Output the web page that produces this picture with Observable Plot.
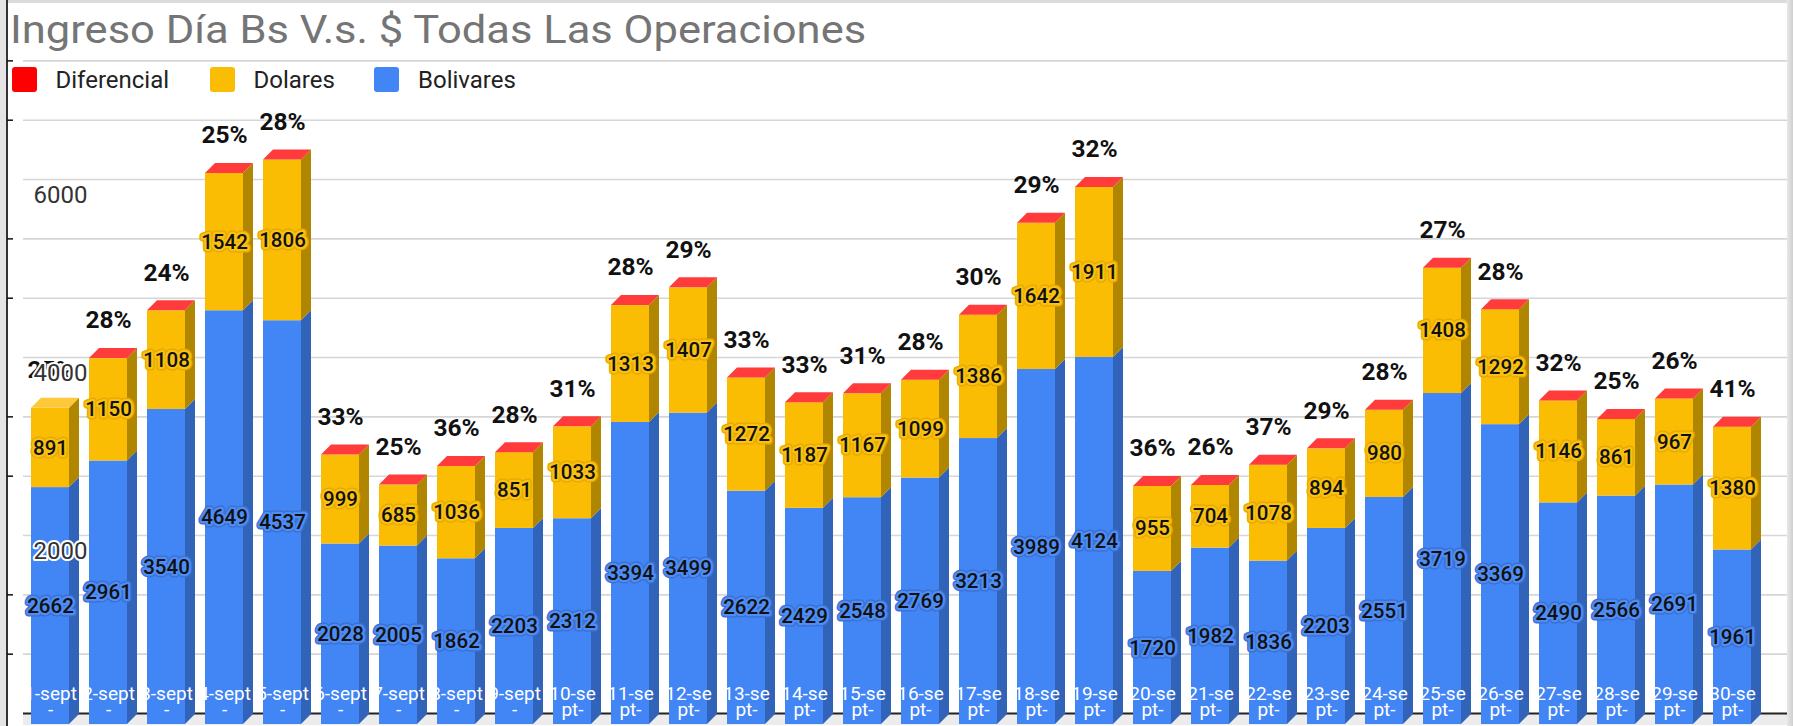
<!DOCTYPE html>
<html>
<head>
<meta charset="utf-8">
<script src="https://cdn.jsdelivr.net/npm/d3@7"></script>
<script src="https://cdn.jsdelivr.net/npm/@observablehq/plot@0.6"></script>
<style>
  html, body { margin: 0; padding: 0; background: #fff; }
  #wrap { position: relative; width: 1793px; height: 726px; overflow: hidden; background: #fff; font-family: Roboto, "Noto Sans", sans-serif; }
  #title { position: absolute; left: 10px; top: 4px; height: 52px; line-height: 52px; font-size: 39px; color: #757575; white-space: nowrap; transform: scaleX(1.115); transform-origin: left center; }
  #chart { position: absolute; left: 0; top: 52px; }
  .leg { position: absolute; top: 67px; height: 25px; display: flex; align-items: center; font-size: 24px; color: #222; white-space: nowrap; }
  .sw { width: 25px; height: 25px; border-radius: 3px; margin-right: 19px; }
  .deco { position: absolute; }
</style>
</head>
<body>
<div id="wrap">
  <div class="deco" style="left:0;top:0;width:1793px;height:3px;background:#dcdcdc"></div>
  <div class="deco" style="left:0;top:0;width:6px;height:726px;background:#e4e4e4"></div>
  <div class="deco" style="left:6px;top:0;width:2px;height:726px;background:#333"></div>
  <div class="deco" style="right:0;top:0;width:6px;height:726px;background:linear-gradient(to right,#e8e8e8,#cfcfcf)"></div>
  <div id="title">Ingreso Día Bs V.s. $ Todas Las Operaciones</div>
  <div id="chart"></div>
  <div id="legend"></div>
</div>
<script>
// ---- data ----
const dias = ["1-sept-","2-sept-","3-sept-","4-sept-","5-sept-","6-sept-","7-sept-","8-sept-","9-sept-","10-sept-",
  "11-sept-","12-sept-","13-sept-","14-sept-","15-sept-","16-sept-","17-sept-","18-sept-","19-sept-","20-sept-",
  "21-sept-","22-sept-","23-sept-","24-sept-","25-sept-","26-sept-","27-sept-","28-sept-","29-sept-","30-sept-"];
const bolivares = [2662,2961,3540,4649,4537,2028,2005,1862,2203,2312,3394,3499,2622,2429,2548,2769,3213,3989,4124,1720,1982,1836,2203,2551,3719,3369,2490,2566,2691,1961];
const dolares = [891,1150,1108,1542,1806,999,685,1036,851,1033,1313,1407,1272,1187,1167,1099,1386,1642,1911,955,704,1078,894,980,1408,1292,1146,861,967,1380];
const porcentajes = [25,28,24,25,28,33,25,36,28,31,28,29,33,33,31,28,30,29,32,36,26,37,29,28,27,28,32,25,26,41];
const diferencial = [null,0.28,0.24,0.25,0.28,0.33,0.25,0.36,0.28,0.31,0.28,0.29,0.33,0.33,0.31,0.28,0.30,0.29,0.32,0.36,0.26,0.37,0.29,0.28,0.27,0.28,0.32,0.25,0.26,0.41];
const series = ["Diferencial","Dolares","Bolivares"];
const colores = ["#ff0000","#fbbc04","#4285f4"];
const ejeY = [2000, 4000, 6000];
const rejilla = [666.7,1333.3,2000,2666.7,3333.3,4000,4666.7,5333.3,6000,6666.7,7333.3];

// ---- tables built from the arrays ----
const rows = [];
dias.forEach((d, i) => {
  rows.push({dia: d, serie: "Bolivares", value: bolivares[i]});
  rows.push({dia: d, serie: "Dolares", value: dolares[i]});
  if (diferencial[i] != null) rows.push({dia: d, serie: "Diferencial", value: diferencial[i]});
});
const blueLab = dias.map((d, i) => ({dia: d, y: bolivares[i] / 2, t: String(bolivares[i])}));
const yellowLab = dias.map((d, i) => ({dia: d, y: bolivares[i] + dolares[i] / 2, t: String(dolares[i])}));
const pctLab = dias.map((d, i) => ({dia: d, y: bolivares[i] + dolares[i] + (diferencial[i] || 0), t: porcentajes[i] + "%"}));
const wrapLabel = s => s.length <= 7 ? s.slice(0, 6) + "\n" + s.slice(6) : s.slice(0, 5) + "\n" + s.slice(5);
const xLab = dias.map(d => ({dia: d, y: 0, t: wrapLabel(d)}));
const menores = rejilla.filter(v => !ejeY.includes(v));

const labelText = (data, outer, inner) => [
  Plot.text(data, {x: "dia", y: "y", text: "t", fontSize: 20.5, fontWeight: 500, fill: "#111",
    stroke: outer, strokeWidth: 7, strokeLinejoin: "round", paintOrder: "stroke"}),
  Plot.text(data, {x: "dia", y: "y", text: "t", fontSize: 20.5, fontWeight: 500, fill: "#111",
    stroke: inner, strokeWidth: 4.5, strokeLinejoin: "round", paintOrder: "stroke"})
];

const chart = Plot.plot({
  width: 1793,
  height: 674,
  marginLeft: 23,
  marginRight: 6,
  marginTop: 0,
  marginBottom: 2,
  style: {fontFamily: "Roboto, 'Noto Sans', sans-serif", background: "transparent", overflow: "visible"},
  x: {type: "band", domain: dias, range: [-0.5, 1781.9], padding: 0.3446, axis: null},
  y: {domain: [0, 7551], label: null, axis: null},
  color: {domain: series, range: colores},
  marks: [
    Plot.ruleY([0], {dy: -5, stroke: "#ececec", strokeWidth: 11}),
    Plot.ruleY(rejilla, {dy: -11, stroke: "#d6d6d6", strokeWidth: 1.6}),
    Plot.ruleY([0], {dy: -11, stroke: "#222", strokeWidth: 2}),
    Plot.axisY(menores, {anchor: "left", tickSize: 6, tickFormat: () => "", dx: -10, dy: -11, stroke: "#111", strokeWidth: 1.5, label: null}),
    Plot.barY(rows, {...Plot.stackY({x: "dia", y: "value", fill: "serie", order: ["Bolivares", "Dolares", "Diferencial"]}), ariaLabel: "bars3d"}),
    Plot.text(xLab, {x: "dia", y: "y", text: "t", fill: "#fff", fontSize: 19, lineHeight: 0.85, lineAnchor: "middle", dy: -21.5}),
    ...labelText(blueLab, "#3a6fcf", "#4d8df5"),
    ...labelText(yellowLab, "#e6a800", "#f9c212"),
    Plot.text(pctLab, {x: "dia", y: "y", text: "t", dy: -38, fontSize: 24.5, fontWeight: 700, fill: "#111"}),
    Plot.text(ejeY, {y: d => d, text: d => String(d), frameAnchor: "left", textAnchor: "start", dx: 10, dy: 4.5,
      fontSize: 24, fill: "#333", stroke: "#fff", strokeWidth: 4, strokeLinejoin: "round", paintOrder: "stroke"})
  ]
});

// ---- 3D side and top faces from the rendered bars ----
const DEPTH = 10;
const sideC = {"#4285f4": "#3163b9", "#fbbc04": "#b08600", "#ff0000": "#b80000"};
const topC = {"#4285f4": "#6d9ff6", "#fbbc04": "#fdc83a", "#ff0000": "#ff3b3b"};
const toHex = c => { const k = d3.color(c); return k ? k.formatHex().toLowerCase() : ""; };
let barG = d3.select(chart).select('g[aria-label="bars3d"]');
if (barG.empty()) barG = d3.select(chart).select('g[aria-label="bar"]');
const byBar = new Map();
barG.selectAll("rect").each(function () {
  const r = this;
  const x = +r.getAttribute("x"), y = +r.getAttribute("y"), w = +r.getAttribute("width"), h = +r.getAttribute("height");
  const f = toHex(r.getAttribute("fill") || getComputedStyle(r).fill);
  const k = Math.round(x);
  if (!byBar.has(k)) byBar.set(k, []);
  byBar.get(k).push({x, y, w, h, f});
});
const faceG = barG.append("g");
for (const segs of byBar.values()) {
  for (const s of segs) {
    faceG.append("polygon")
      .attr("points", [[s.x + s.w, s.y + s.h], [s.x + s.w + DEPTH, s.y + s.h - DEPTH], [s.x + s.w + DEPTH, s.y - DEPTH], [s.x + s.w, s.y]].join(" "))
      .attr("fill", sideC[s.f] || "#666");
  }
  const t = segs.reduce((a, b) => (b.y <= a.y ? b : a));
  faceG.append("polygon")
    .attr("points", [[t.x, t.y], [t.x + DEPTH, t.y - DEPTH], [t.x + t.w + DEPTH, t.y - DEPTH], [t.x + t.w, t.y]].join(" "))
    .attr("fill", topC[t.f] || "#999");
}
document.getElementById("chart").appendChild(chart);

// ---- legend ----
const legLeft = [11.5, 209.5, 374];
const legendEl = document.getElementById("legend");
series.forEach((s, i) => {
  const item = document.createElement("div");
  item.className = "leg";
  item.style.left = legLeft[i] + "px";
  item.innerHTML = `<div class="sw" style="background:${colores[i]}"></div><span>${s}</span>`;
  legendEl.appendChild(item);
});
</script>
</body>
</html>
